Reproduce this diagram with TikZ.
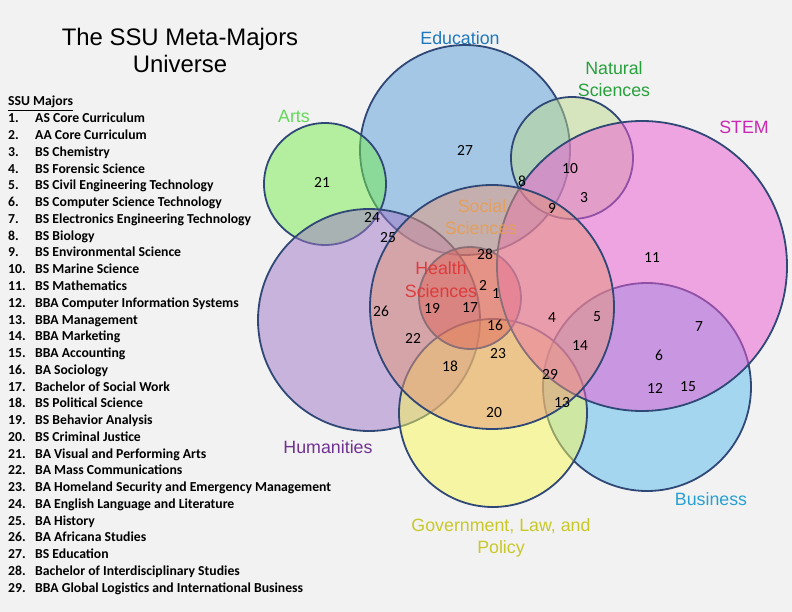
\documentclass[tikz,border=0pt]{standalone}
\usepackage{fontspec}
\setmainfont{Liberation Sans}
\newfontfamily\listfont{Carlito}
\definecolor{bgc}{RGB}{242,242,242}
\definecolor{edgec}{RGB}{48,72,118}
\definecolor{educ}{RGB}{88,158,218}
\definecolor{natc}{RGB}{188,218,138}
\definecolor{stemc}{RGB}{238,88,212}
\definecolor{artsc}{RGB}{118,238,78}
\definecolor{humc}{RGB}{158,118,198}
\definecolor{busc}{RGB}{88,188,238}
\definecolor{govc}{RGB}{248,248,88}
\definecolor{socc}{RGB}{228,150,120}
\definecolor{heac}{RGB}{215,50,60}
\definecolor{edut}{RGB}{30,120,190}
\definecolor{natt}{RGB}{40,160,60}
\definecolor{stemt}{RGB}{200,40,180}
\definecolor{artst}{RGB}{100,215,90}
\definecolor{humt}{RGB}{112,50,145}
\definecolor{bust}{RGB}{40,160,210}
\definecolor{govt}{RGB}{200,200,40}
\definecolor{soct}{RGB}{228,160,90}
\definecolor{heat}{RGB}{220,60,60}
\begin{document}
\begin{tikzpicture}[x=1pt,y=-1pt,
  venn/.style={draw=edgec,line width=1.8pt,fill opacity=0.5},
  cat/.style={font=\fontsize{17.8}{20}\selectfont,inner sep=0pt,anchor=base},
  num/.style={font=\listfont\fontsize{15.5}{18}\selectfont,inner sep=0pt},
  listtxt/.style={font=\listfont\bfseries\fontsize{13.7}{15}\selectfont,inner sep=0pt,anchor=base west}]
\fill[bgc] (0,0) rectangle (792,612);
\useasboundingbox (0,0) rectangle (792,612);
% circles
\path[venn,fill=educ] (465,150) circle (105);
\path[venn,fill=artsc] (325,184) circle (61);
\path[venn,fill=natc] (572,158) circle (61);
\path[venn,fill=humc] (369,320) circle (111);
\path[venn,fill=busc] (647,387) circle (104);
\path[venn,fill=govc] (493,413) circle (94);
\path[venn,fill=heac] (470,298) circle (51);
\path[venn,fill=stemc] (642,266) circle (145);
\path[venn,fill=socc] (492,307) circle (122);
% title
\node[cat,font=\fontsize{23.9}{28}\selectfont] (title1) at (180,46) {The SSU Meta-Majors};
\node[cat,font=\fontsize{23.9}{28}\selectfont] (title2) at (180,73) {Universe};
% list
\node[listtxt] (listhead) at (8,106) {\underline{SSU Majors}};
\foreach \t [count=\i] in {AS Core Curriculum,AA Core Curriculum,BS Chemistry,BS Forensic Science,BS Civil Engineering Technology,BS Computer Science Technology,BS Electronics Engineering Technology,BS Biology,BS Environmental Science,BS Marine Science,BS Mathematics,BBA Computer Information Systems,BBA Management,BBA Marketing,BBA Accounting,BA Sociology,Bachelor of Social Work,BS Political Science,BS Behavior Analysis,BS Criminal Justice,BA Visual and Performing Arts,BA Mass Communications,BA Homeland Security and Emergency Management,BA English Language and Literature,BA History,BA Africana Studies,BS Education,Bachelor of Interdisciplinary Studies,BBA Global Logistics and International Business}{
  \node[listtxt] (no\i) at (8,{123+16.75*(\i-1)}) {\i.};
  \node[listtxt] (maj\i) at (35,{123+16.75*(\i-1)}) {\t};
}
% category labels
\node[cat,text=edut] (ledu) at (460,45) {Education};
\node[cat,text=natt] (lnat1) at (614,75) {Natural};
\node[cat,text=natt] (lnat2) at (614,97) {Sciences};
\node[cat,text=stemt] (lstem) at (744,134) {STEM};
\node[cat,text=artst] (larts) at (294,123) {Arts};
\node[cat,text=humt] (lhum) at (328,453) {Humanities};
\node[cat,text=bust] (lbus) at (711,505) {Business};
\node[cat,text=govt] (lgov1) at (501,531) {Government, Law, and};
\node[cat,text=govt] (lgov2) at (501,553) {Policy};
\node[cat,text=soct] (lsoc1) at (482,213) {Social};
\node[cat,text=soct] (lsoc2) at (481,235) {Sciences};
\node[cat,text=heat] (lhea1) at (441,275) {Health};
\node[cat,text=heat] (lhea2) at (441,297) {Sciences};
% numbers
\foreach \n/\x/\y in {27/465/150,21/322/182,8/522/181,10/570/169,3/584/198,9/552/208,24/372/217,25/388/238,28/485/254,11/652/258,2/483/285,1/496/294,19/432/308,17/470/308,26/381/311,16/495/325,4/552/318,5/597/317,7/699/327,22/413/338,14/580/346,6/659/355,23/498/354,18/450/366,29/550/374,12/655/388,15/688/387,13/562/403,20/494/413}{
  \node[num] (m\n) at (\x,\y) {\n};
}
\end{tikzpicture}
\end{document}
